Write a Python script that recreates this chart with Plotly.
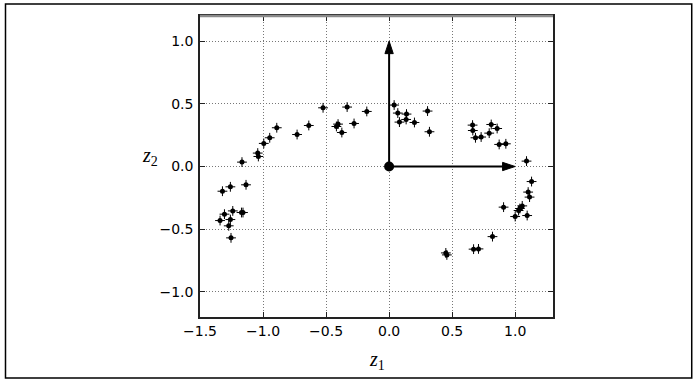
import plotly.graph_objects as go

# Projected points (z1, z2)
z1 = [-1.167, -1.042, -1.037, -0.994, -0.947, -0.891, -0.730, -0.637, -0.524,
      -0.418, -0.405, -0.375, -0.333, -0.278, -0.177,
      0.040, 0.069, 0.082, 0.138, 0.135, 0.201, 0.305, 0.320,
      0.662, 0.664, 0.685, 0.730, 0.794, 0.810, 0.857, 0.873, 0.926, 1.090,
      -1.322, -1.259, -1.135, -1.306, -1.240, -1.171, -1.159, -1.341, -1.259,
      -1.272, -1.254,
      1.130, 1.103, 1.114, 0.908, 1.056, 1.037, 1.027, 1.000, 1.095, 0.820,
      0.670, 0.709, 0.450, 0.458]
z2 = [0.035, 0.107, 0.080, 0.184, 0.229, 0.309, 0.255, 0.327, 0.468,
      0.319, 0.338, 0.271, 0.474, 0.343, 0.439,
      0.490, 0.426, 0.354, 0.418, 0.375, 0.351, 0.442, 0.277,
      0.330, 0.287, 0.229, 0.235, 0.266, 0.335, 0.303, 0.176, 0.181, 0.043,
      -0.197, -0.162, -0.146, -0.380, -0.354, -0.367, -0.367, -0.431, -0.423,
      -0.473, -0.569,
      -0.120, -0.204, -0.244, -0.324, -0.314, -0.335, -0.351, -0.399, -0.391,
      -0.559, -0.659, -0.657, -0.689, -0.705]

# Unit axis vectors drawn from the origin
origin = (0.0, 0.0)
vectors = [(1.0, 0.0), (0.0, 1.0)]

x_ticks = [-1.5, -1.0, -0.5, 0.0, 0.5, 1.0]
y_ticks = [-1.0, -0.5, 0.0, 0.5, 1.0]
x_range = [-1.5, 1.3]
y_range = [-1.2, 1.2]

head_len = 0.1
head_half = 0.033

fig = go.Figure()
fig.add_trace(go.Scatter(x=z1, y=z2, mode="markers",
                         marker=dict(symbol="circle", size=5, color="black"),
                         hoverinfo="skip"))
fig.add_trace(go.Scatter(x=z1, y=z2, mode="markers",
                         marker=dict(symbol="cross-thin", size=7,
                                     line=dict(color="black", width=1)),
                         hoverinfo="skip"))

shapes = []
for vx, vy in vectors:
    ox, oy = origin
    L = (vx ** 2 + vy ** 2) ** 0.5
    ux, uy = vx / L, vy / L
    bx, by = ox + vx - ux * head_len, oy + vy - uy * head_len
    shapes.append(dict(type="line", xref="x", yref="y", x0=ox, y0=oy, x1=bx, y1=by,
                       line=dict(color="black", width=2)))
    px_, py_ = -uy, ux
    path = (f"M {ox+vx},{oy+vy} L {bx+px_*head_half},{by+py_*head_half} "
            f"L {bx-px_*head_half},{by-py_*head_half} Z")
    shapes.append(dict(type="path", xref="x", yref="y", path=path,
                       fillcolor="black", line=dict(color="black", width=1)))

# top spine (gray) and outer border
shapes.append(dict(type="line", xref="paper", yref="paper", x0=0, x1=1, y0=1, y1=1,
                   line=dict(color="#8a8a8a", width=2.5)))
shapes.append(dict(type="rect", xref="paper", yref="paper",
                   x0=-0.551, x1=1.393, y0=-0.2027, y1=1.040,
                   line=dict(color="black", width=1.5)))

fig.add_trace(go.Scatter(x=[origin[0]], y=[origin[1]], mode="markers",
                         marker=dict(symbol="circle", size=10, color="black"),
                         hoverinfo="skip"))

axis_common = dict(showgrid=True, gridcolor="#777", griddash="1px,2px", gridwidth=1,
                   zeroline=False, showline=True, linecolor="#222", linewidth=1.5,
                   mirror="allticks", ticks="inside", ticklen=5, tickcolor="#222",
                   tickwidth=1,
                   tickfont=dict(family="DejaVu Sans", size=14, color="black"),
                   tickformat=".1f")

fig.update_layout(
    width=697, height=384,
    margin=dict(l=200, r=144, t=16, b=67),
    paper_bgcolor="white", plot_bgcolor="white",
    showlegend=False,
    xaxis=dict(range=x_range, tickvals=x_ticks, ticklabelstandoff=0, **axis_common),
    yaxis=dict(range=y_range, tickvals=y_ticks, ticklabelstandoff=2, **axis_common),
    shapes=shapes,
    annotations=[
        dict(text="<i>z</i><sub>1</sub>", xref="paper", yref="paper",
             x=(377 - 200) / 353, y=(317 - 360) / 301, showarrow=False,
             xanchor="center", yanchor="middle",
             font=dict(family="Liberation Serif", size=20, color="black")),
        dict(text="<i>z</i><sub>2</sub>", xref="paper", yref="paper",
             x=(150 - 200) / 353, y=(317 - 156) / 301, showarrow=False,
             xanchor="center", yanchor="middle",
             font=dict(family="Liberation Serif", size=20, color="black")),
    ],
)

fig.write_html("out.html", config={"displayModeBar": False},
               post_script="document.body.style.margin='0px';")
